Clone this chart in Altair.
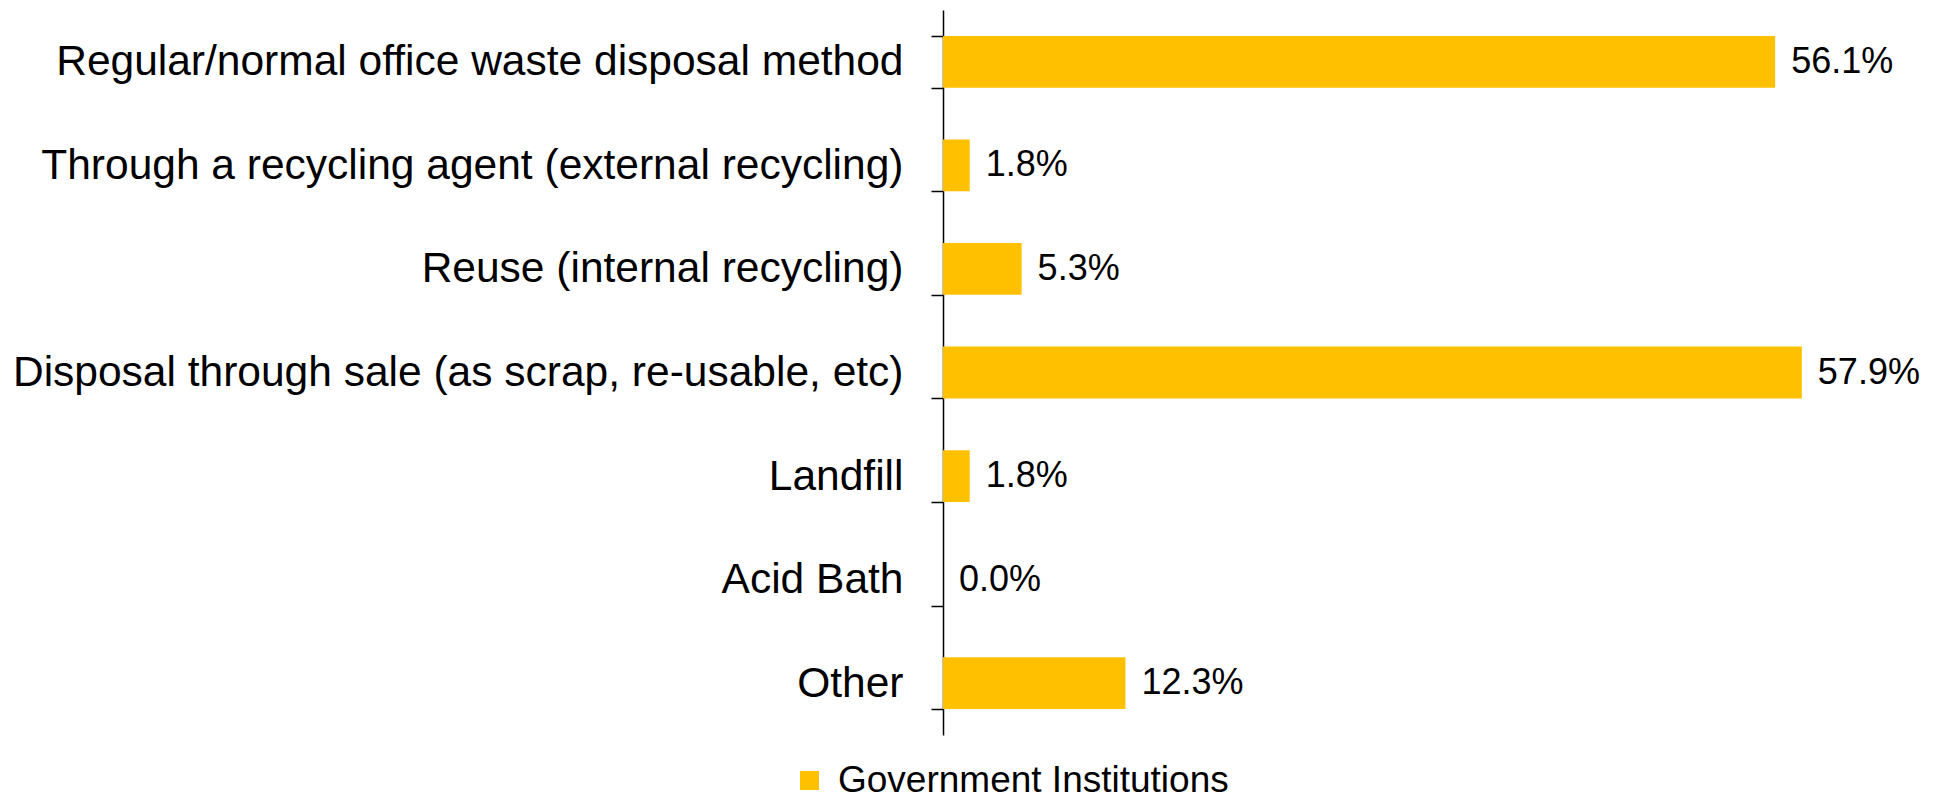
import altair as alt
import pandas as pd

categories = [
    "Regular/normal office waste disposal method",
    "Through a recycling agent (external recycling)",
    "Reuse (internal recycling)",
    "Disposal through sale (as scrap, re-usable, etc)",
    "Landfill",
    "Acid Bath",
    "Other\u00a0",
]
values = [56.1, 1.8, 5.3, 57.9, 1.8, 0.0, 12.3]
series_name = "Government Institutions"

df = pd.DataFrame({"category": categories, "value": values, "series": series_name})

FONT = "Liberation Sans"
BAR = "#FFC000"

base = alt.Chart(df).encode(
    y=alt.Y(
        "category:N",
        sort=categories,
        scale=alt.Scale(paddingInner=0.5, paddingOuter=0.25),
        axis=alt.Axis(
            title=None,
            labelFont=FONT,
            labelFontSize=42.5,
            labelColor="black",
            labelPadding=28,
            labelLimit=1000,
            tickSize=12,
            tickColor="black",
            tickWidth=1.5,
            domainColor="black",
            domainWidth=1.5,
            tickBand="extent",
            grid=False,
        ),
    ),
)

bars = base.mark_bar(color=BAR).encode(
    x=alt.X("value:Q", scale=alt.Scale(domain=[0, 60]), axis=None),
    color=alt.Color(
        "series:N",
        scale=alt.Scale(range=[BAR]),
        legend=alt.Legend(
            title=None,
            orient="none",
            legendX=-152,
            legendY=752,
            symbolType="square",
            symbolSize=361,
            symbolStrokeWidth=0,
            labelFont=FONT,
            labelFontSize=37,
            labelColor="black",
            labelOffset=10,
            labelLimit=1000,
        ),
    ),
)

labels = base.mark_text(
    align="left", baseline="middle", dx=16, font=FONT, fontSize=36, color="black"
).transform_calculate(
    label="format(datum.value, '.1f') + '%'"
).encode(
    x=alt.X("value:Q", scale=alt.Scale(domain=[0, 60])),
    text="label:N",
)

chart = (
    alt.layer(bars, labels)
    .properties(
        width=890,
        height=725,
        background="white",
        autosize=alt.AutoSizeParams(type="none"),
        padding={"left": 935, "top": 2, "right": 100, "bottom": 65},
    )
    .configure_view(stroke="transparent", strokeWidth=0)
)

chart.save("out.html", embed_options={"renderer": "svg", "actions": False})
